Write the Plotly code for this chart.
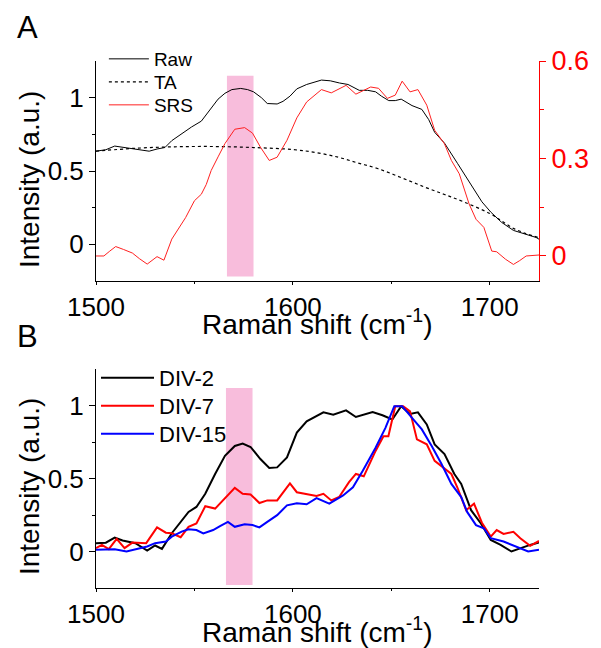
import plotly.graph_objects as go

# ---------------- Panel A data ----------------
raw_x = [1500, 1505, 1509.5, 1515, 1520, 1527, 1531, 1535, 1538.5, 1543, 1548.5, 1553.5, 1558.5, 1562,
         1565.5, 1569, 1573.5, 1577, 1580, 1584, 1587, 1592, 1595, 1598.5, 1602, 1607, 1614.5, 1619,
         1623.7, 1628, 1633.7, 1638, 1642, 1645, 1648.7, 1652, 1655, 1660.5, 1665.5, 1669, 1672, 1677,
         1683.7, 1688, 1692, 1696, 1700.5, 1706, 1712, 1718, 1723.5, 1725]
raw_y = [0.635, 0.645, 0.67, 0.66, 0.65, 0.635, 0.65, 0.66, 0.707, 0.75, 0.80, 0.84, 0.93, 0.99,
         1.03, 1.055, 1.063, 1.055, 1.04, 1.0, 0.96, 0.957, 0.975, 1.01, 1.06, 1.09, 1.12, 1.115,
         1.10, 1.09, 1.05, 1.05, 1.04, 1.01, 0.98, 0.98, 0.99, 0.946, 0.92, 0.85, 0.764, 0.69,
         0.55, 0.46, 0.37, 0.29, 0.22, 0.15, 0.095, 0.07, 0.047, 0.035]

ta_x = [1500, 1520, 1540, 1560, 1580, 1600, 1612, 1623, 1633, 1643, 1655, 1667, 1677, 1687, 1700,
        1706, 1712, 1718, 1725]
ta_y = [0.635, 0.655, 0.665, 0.667, 0.66, 0.646, 0.625, 0.594, 0.555, 0.517, 0.455, 0.39, 0.34,
        0.288, 0.21, 0.16, 0.109, 0.075, 0.045]

srs_x = [1500, 1504, 1507, 1510, 1514, 1518.5, 1522, 1526, 1531, 1534.5, 1538.5, 1542, 1545.5, 1550,
         1553.5, 1556, 1558.5, 1562, 1565.5, 1570.5, 1575.5, 1579.5, 1583.5, 1588, 1592, 1597, 1602,
         1607, 1614.5, 1619.5, 1627, 1632, 1639.5, 1643.5, 1648, 1652, 1655.5, 1659.5, 1663.5, 1668,
         1672, 1677, 1680.5, 1684.5, 1689.5, 1693, 1697, 1701, 1703.5, 1708, 1712, 1715, 1718.5, 1725]
srs_y = [0.0, 0.0, 0.015, 0.029, 0.02, 0.009, -0.008, -0.025, -0.002, -0.013, 0.052, 0.085, 0.118, 0.17,
         0.19, 0.22, 0.263, 0.305, 0.346, 0.39, 0.395, 0.378, 0.335, 0.294, 0.304, 0.356, 0.425,
         0.474, 0.512, 0.502, 0.525, 0.498, 0.52, 0.516, 0.485, 0.495, 0.538, 0.505, 0.512, 0.464,
         0.387, 0.345, 0.294, 0.253, 0.16, 0.113, 0.088, 0.015, 0.013, -0.01, -0.026, -0.015, 0.0, 0.003]

# ---------------- Panel B data ----------------
div2_x = [1500, 1505, 1509.5, 1513.5, 1520, 1526, 1530, 1533.5, 1538.5, 1543, 1547, 1551, 1555.5, 1560.5,
          1565.5, 1570.5, 1574.5, 1578.5, 1583.5, 1588, 1592, 1597, 1602, 1607, 1615.5, 1620.5, 1627,
          1632, 1640.5, 1645.5, 1650.5, 1655, 1659.5, 1663.5, 1668, 1672, 1677, 1682, 1685.5, 1690.5,
          1695.5, 1700.5, 1705.5, 1711, 1715.5, 1720.5, 1725]
div2_y = [0.057, 0.06, 0.095, 0.075, 0.057, 0.007, 0.041, 0.018, 0.125, 0.203, 0.271, 0.305, 0.396, 0.531,
          0.655, 0.723, 0.739, 0.716, 0.633, 0.572, 0.576, 0.644, 0.815, 0.892, 0.953, 0.937, 0.967,
          0.921, 0.955, 0.933, 0.904, 0.995, 0.942, 0.953, 0.87, 0.734, 0.667, 0.531, 0.463, 0.283,
          0.192, 0.079, 0.045, 0.0, 0.023, 0.045, 0.061]

div7_x = [1500, 1503, 1506.5, 1510.5, 1514.5, 1518.5, 1525.5, 1531, 1535.5, 1538.5, 1543, 1547, 1551,
          1555.5, 1560.5, 1565.5, 1570.5, 1574.5, 1578.5, 1583, 1587, 1592, 1598.5, 1602, 1607, 1612,
          1615.5, 1619.5, 1623.5, 1628.5, 1632, 1636, 1642, 1646, 1648.5, 1652, 1656, 1659.5, 1663,
          1668, 1672, 1676, 1680.5, 1683.5, 1688, 1692, 1696, 1700.5, 1703.5, 1707, 1712, 1715.5,
          1720.5, 1725]
div7_y = [0.023, 0.045, 0.016, 0.086, 0.023, 0.061, 0.057, 0.165, 0.129, 0.125, 0.098, 0.169, 0.192,
          0.31, 0.294, 0.362, 0.436, 0.396, 0.391, 0.332, 0.35, 0.35, 0.467, 0.406, 0.395, 0.38,
          0.395, 0.35, 0.373, 0.475, 0.531, 0.515, 0.689, 0.79, 0.79, 0.995, 0.995, 0.96, 0.768,
          0.734, 0.621, 0.576, 0.531, 0.44, 0.283, 0.328, 0.197, 0.102, 0.147, 0.12, 0.135, 0.091,
          0.039, 0.072]

div15_x = [1500, 1505, 1509.5, 1515.5, 1522, 1526, 1530, 1535.5, 1538.5, 1543.5, 1547, 1551, 1554.5,
           1559.5, 1563, 1567, 1570.5, 1575.5, 1579.5, 1583, 1587, 1592, 1597, 1602, 1607, 1612, 1618.5,
           1625.5, 1630.5, 1635.5, 1642, 1647, 1651.5, 1655.5, 1660.5, 1665.5, 1670.5, 1675.5, 1680.5,
           1685.5, 1688.5, 1693, 1697, 1700.5, 1707, 1713.5, 1719.5, 1725]
div15_y = [0.012, 0.012, 0.016, 0.0, 0.023, 0.034, 0.057, 0.068, 0.102, 0.136, 0.152, 0.147, 0.124,
           0.147, 0.174, 0.203, 0.169, 0.186, 0.181, 0.165, 0.203, 0.249, 0.316, 0.33, 0.323, 0.366,
           0.328, 0.384, 0.44, 0.553, 0.711, 0.847, 0.995, 0.995, 0.915, 0.836, 0.723, 0.599, 0.463,
           0.373, 0.271, 0.181, 0.159, 0.091, 0.068, 0.034, 0.0, 0.012]

# highlighted band (x range, y range) for each panel
band_a_x = [1566.5, 1580]
band_a_y = [-0.22, 1.15]
band_b_x = [1566, 1579.5]
band_b_y = [-0.23, 1.12]

x_ticks = [1500, 1600, 1700]
y_ticks = [0, 0.5, 1]
y_tick_text = ["0", "0.5", "1"]
y2_ticks = [0, 0.3, 0.6]
y2_tick_text = ["0", "0.3", "0.6"]

FONT = "Arial, Liberation Sans, sans-serif"
PINK = "#f8bddc"
TICK_SIZE = 26
TITLE_SIZE = 28

W, H = 601, 648
ML, MR, MT, MB = 96, 55, 61, 60
PW, PH = W - ML - MR, H - MT - MB


def px_x(px):
    return (px - ML) / PW


def px_y(py):
    return (H - MB - py) / PH


fig = go.Figure()

fig.add_trace(go.Scatter(x=raw_x, y=raw_y, mode="lines", name="Raw",
                         line=dict(color="black", width=1), xaxis="x", yaxis="y", legend="legend"))
fig.add_trace(go.Scatter(x=ta_x, y=ta_y, mode="lines", name="TA", line_shape="spline",
                         line=dict(color="black", width=1.2, dash="3px,3px"), xaxis="x", yaxis="y",
                         legend="legend2"))
fig.add_trace(go.Scatter(x=srs_x, y=srs_y, mode="lines", name="SRS",
                         line=dict(color="#ff2020", width=1), xaxis="x", yaxis="y2", legend="legend3"))

fig.add_trace(go.Scatter(x=div2_x, y=div2_y, mode="lines", name="DIV-2",
                         line=dict(color="black", width=2), xaxis="x2", yaxis="y3", legend="legend4"))
fig.add_trace(go.Scatter(x=div7_x, y=div7_y, mode="lines", name="DIV-7",
                         line=dict(color="#ff0000", width=2), xaxis="x2", yaxis="y3", legend="legend5"))
fig.add_trace(go.Scatter(x=div15_x, y=div15_y, mode="lines", name="DIV-15",
                         line=dict(color="#0000ff", width=2), xaxis="x2", yaxis="y3", legend="legend6"))

fig.add_shape(type="rect", xref="x", yref="y", x0=band_a_x[0], x1=band_a_x[1],
              y0=band_a_y[0], y1=band_a_y[1], fillcolor=PINK, line_width=0, layer="below")
fig.add_shape(type="rect", xref="x2", yref="y3", x0=band_b_x[0], x1=band_b_x[1],
              y0=band_b_y[0], y1=band_b_y[1], fillcolor=PINK, line_width=0, layer="below")

xcommon = dict(range=[1500, 1725], tickvals=x_ticks, ticks="outside", ticklen=3, tickwidth=1,
               tickcolor="black", showline=True, linecolor="black", linewidth=1, showgrid=False,
               zeroline=False, tickfont=dict(size=TICK_SIZE, color="black", family=FONT),
               minor=dict(tickvals=[1550, 1650], ticks="outside", ticklen=2, tickcolor="black"))
ycommon = dict(range=[-0.25, 1.25], tickvals=y_ticks, ticktext=y_tick_text, ticks="outside", ticklen=6,
               tickwidth=1, tickcolor="black", showline=True, linecolor="black", linewidth=1,
               showgrid=False, zeroline=False, tickfont=dict(size=TICK_SIZE, color="black", family=FONT),
               minor=dict(tickvals=[0.25, 0.75], ticks="outside", ticklen=3, tickcolor="black"))

DOM_A = [px_y(281), 1.0]
DOM_B = [0.0, px_y(369)]


def leg(px, py, size, iw):
    return dict(x=px_x(px), y=px_y(py), xanchor="left", yanchor="middle",
                bgcolor="rgba(0,0,0,0)", font=dict(size=size, color="black", family=FONT),
                itemwidth=iw, tracegroupgap=0)


def ann(text, px, py, size, angle=0):
    return dict(text=text, x=px_x(px), y=px_y(py), xref="paper", yref="paper", showarrow=False,
                xanchor="center", yanchor="middle", textangle=angle,
                font=dict(size=size, color="black", family=FONT))


fig.update_layout(
    width=W, height=H,
    margin=dict(l=ML, r=MR, t=MT, b=MB),
    paper_bgcolor="white", plot_bgcolor="rgba(0,0,0,0)",
    font=dict(family=FONT, color="black"),
    showlegend=True,
    xaxis=dict(**xcommon, domain=[0, 1], anchor="y"),
    yaxis=dict(**ycommon, domain=DOM_A, anchor="x"),
    yaxis2=dict(range=[-0.077, 0.6], tickvals=y2_ticks, ticktext=y2_tick_text, overlaying="y",
                side="right", anchor="x", ticks="outside", ticklen=6, tickwidth=1, tickcolor="red",
                showline=True, linecolor="red", linewidth=1, showgrid=False, zeroline=False,
                tickfont=dict(size=TICK_SIZE + 1, color="red", family=FONT),
                minor=dict(tickvals=[0.15, 0.45], ticks="outside", ticklen=4, tickcolor="red")),
    xaxis2=dict(**xcommon, domain=[0, 1], anchor="y3"),
    yaxis3=dict(**ycommon, domain=DOM_B, anchor="x2"),
    legend=leg(104, 59, 19, 40),
    legend2=leg(104, 82, 19, 40),
    legend3=leg(104, 105, 19, 40),
    legend4=leg(96, 378, 22, 53),
    legend5=leg(96, 406, 22, 53),
    legend6=leg(96, 434, 22, 53),
    annotations=[
        ann("A", 26, 27, 31),
        ann("B", 26, 336, 31),
        ann("Raman shift (cm<sup>-1</sup>)", 321, 322, TITLE_SIZE),
        ann("Raman shift (cm<sup>-1</sup>)", 321, 630, TITLE_SIZE),
        ann("Intensity (a.u.)", 28, 180, TITLE_SIZE, -90),
        ann("Intensity (a.u.)", 28, 487, TITLE_SIZE, -90),
    ],
)

fig.write_html("out.html")
